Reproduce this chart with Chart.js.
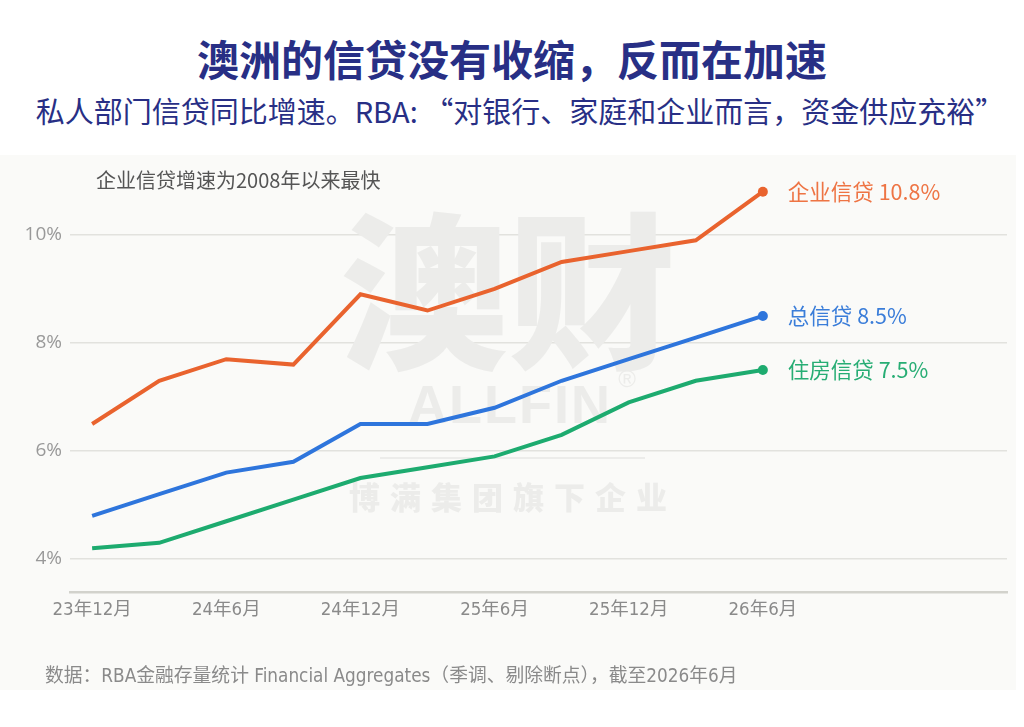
<!DOCTYPE html>
<html>
<head>
<meta charset="utf-8">
<script src="https://cdn.jsdelivr.net/npm/chart.js@4"></script>
<style>
  body { margin: 0; width: 1024px; height: 727px; background: #ffffff; position: relative; overflow: hidden; }
  #title { position: absolute; top: 30px; left: 0; width: 1024px; text-align: center;
    font: bold 42px "Noto Sans CJK SC", sans-serif; line-height: 56px; color: #282f85; }
  #subtitle { position: absolute; top: 92px; left: 8px; width: 1024px; text-align: center;
    font: 400 29px "Noto Sans CJK SC", sans-serif; line-height: 36px; color: #282f85; }
  #panel { position: absolute; top: 155px; left: 0; width: 1016px; height: 535px; background: #fafaf8; }
  #chart { position: absolute; top: 155px; left: 0; }
  #note { position: absolute; left: 96px; top: 167px; font: 20px "Noto Sans CJK SC", sans-serif;
    line-height: 26px; color: #555555; }
  #source { position: absolute; left: 45px; top: 663px; font: 18.8px "Liberation Sans Narrow", "DejaVu Sans Condensed", "Noto Sans CJK SC", sans-serif;
    line-height: 26px; color: #8a8a8a; }
</style>
</head>
<body>
<div id="title">澳洲的信贷没有收缩，反而在加速</div>
<div id="subtitle">私人部门信贷同比增速。RBA: “对银行、家庭和企业而言，资金供应充裕”</div>
<div id="panel"></div>
<canvas id="chart" width="1024" height="535"></canvas>
<div id="note">企业信贷增速为2008年以来最快</div>
<div id="source">数据：RBA金融存量统计 Financial Aggregates（季调、剔除断点），截至2026年6月</div>
<script>
// quarterly, Dec 2023 .. Jun 2026
const quarters = ['23年12月', '24年3月', '24年6月', '24年9月', '24年12月', '25年3月',
                  '25年6月', '25年9月', '25年12月', '26年3月', '26年6月'];
const businessCredit = [6.5, 7.3, 7.7, 7.6, 8.9, 8.6, 9.0, 9.5, 9.7, 9.9, 10.8];
const totalCredit    = [4.8, 5.2, 5.6, 5.8, 6.5, 6.5, 6.8, 7.3, 7.7, 8.1, 8.5];
const housingCredit  = [4.2, 4.3, 4.7, 5.1, 5.5, 5.7, 5.9, 6.3, 6.9, 7.3, 7.5];
const seriesNames = ['企业信贷', '总信贷', '住房信贷'];
const seriesColors = ['#e9632e', '#2e75dc', '#1dab6f'];
const labelColors = ['#ee7444', '#3a7dd9', '#27ad74'];
const xTickIdx = [0, 2, 4, 6, 8, 10];
const yTicks = [4, 6, 8, 10];

const tickFont = "'Liberation Sans Narrow', 'DejaVu Sans Condensed', 'Noto Sans CJK SC', sans-serif";

function toPoints(vals) {
    return vals.map((v, i) => ({ x: i, y: v }));
}

function makeDataset(idx, vals) {
    const last = vals.length - 1;
    return {
        label: seriesNames[idx],
        data: toPoints(vals),
        borderColor: seriesColors[idx],
        backgroundColor: seriesColors[idx],
        borderWidth: 4,
        tension: 0,
        pointRadius: ctx => ctx.dataIndex === last ? 5 : 0,
        pointBorderWidth: 0,
        pointHoverRadius: 0
    };
}

// big faded logo behind the lines
const watermark = {
    id: 'watermark',
    beforeDatasetsDraw(chart) {
        const c = chart.ctx;
        c.save();
        c.fillStyle = '#ececea';
        c.textAlign = 'center';
        c.textBaseline = 'middle';
        c.font = "900 168px 'Noto Sans CJK SC'";
        c.fillText('澳财', 508, 137);
        c.font = "bold 54px 'Liberation Sans', sans-serif";
        c.letterSpacing = '2px';
        c.fillText('ALLFIN', 510, 253);
        c.font = "24px 'Liberation Sans', sans-serif";
        c.fillText('®', 628, 225);
        c.fillRect(380, 302, 265, 2);
        c.font = "900 31px 'Noto Sans CJK SC'";
        c.letterSpacing = '10px';
        c.fillText('博满集团旗下企业', 513, 342);
        c.restore();
    }
};

// series name + last value at the end of each line
const endLabels = {
    id: 'endLabels',
    afterDatasetsDraw(chart) {
        const c = chart.ctx;
        const xs = chart.scales.x, ys = chart.scales.y;
        c.save();
        c.font = "21.5px 'Noto Sans CJK SC', sans-serif";
        c.textBaseline = 'middle';
        c.textAlign = 'left';
        chart.data.datasets.forEach((ds, i) => {
            const p = ds.data[ds.data.length - 1];
            c.fillStyle = labelColors[i];
            c.fillText(ds.label + ' ' + p.y.toFixed(1) + '%', xs.getPixelForValue(p.x) + 25, ys.getPixelForValue(p.y));
        });
        c.restore();
    }
};

new Chart(document.getElementById('chart'), {
    type: 'line',
    data: {
        datasets: [
            makeDataset(0, businessCredit),
            makeDataset(1, totalCredit),
            makeDataset(2, housingCredit)
        ]
    },
    options: {
        responsive: false,
        animation: false,
        layout: { padding: { left: 0, right: 17, top: 4, bottom: 0 } },
        plugins: {
            legend: { display: false },
            tooltip: { enabled: false }
        },
        scales: {
            x: {
                type: 'linear',
                min: -0.33,
                max: 13.64,
                afterBuildTicks: scale => { scale.ticks = xTickIdx.map(v => ({ value: v })); },
                afterFit: scale => { scale.height = 98; },
                grid: { display: false, drawTicks: false },
                border: { display: true, color: '#d2d2cc', width: 2.5 },
                ticks: {
                    padding: 7,
                    color: '#8a8a8a',
                    font: { family: tickFont, size: 18.5 },
                    maxRotation: 0,
                    autoSkip: false,
                    callback: v => quarters[v]
                }
            },
            y: {
                min: 3.39,
                max: 11.12,
                afterBuildTicks: scale => { scale.ticks = yTicks.map(v => ({ value: v })); },
                afterFit: scale => { scale.width = 70; },
                grid: { color: '#e2e2de', lineWidth: 1.5, drawTicks: false },
                border: { display: false },
                ticks: {
                    padding: 8,
                    color: '#999999',
                    font: { family: "'Open Sans', sans-serif", size: 19, weight: 400 },
                    callback: v => v + '%'
                }
            }
        }
    },
    plugins: [watermark, endLabels]
});
</script>
</body>
</html>
